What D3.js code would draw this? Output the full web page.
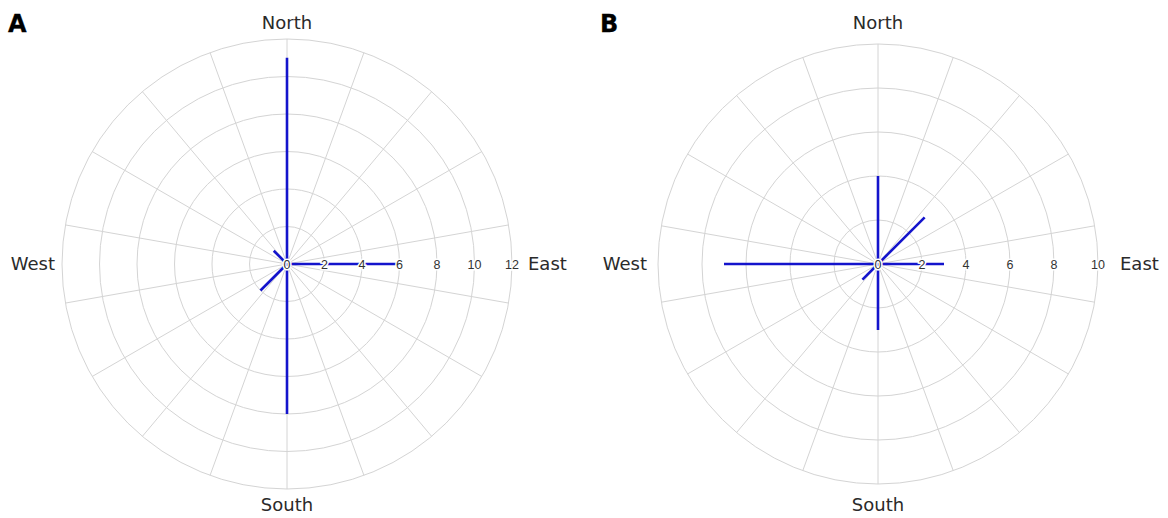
<!DOCTYPE html>
<html>
<head>
<meta charset="utf-8">
<script src="https://cdn.jsdelivr.net/npm/d3@7"></script>
<style>
  html, body { margin: 0; padding: 0; background: #fff; }
  svg { display: block; }
</style>
</head>
<body>
<svg id="chart" width="1168" height="518"></svg>
<script>
// ---- data ----
const directions = ["N", "NE", "E", "SE", "S", "SW", "W", "NW"];
const directionAngles = [0, 45, 90, 135, 180, 225, 270, 315];
const valuesA = [11, 0, 6, 0, 8, 2, 0, 1];
const valuesB = [4, 3, 3, 0, 3, 1, 7, 0];
const ticksA = [0, 2, 4, 6, 8, 10, 12];
const ticksB = [0, 2, 4, 6, 8, 10];
const compassLabels = ["North", "East", "South", "West"];
const panelLetters = ["A", "B"];

const svg = d3.select("#chart");

function drawPanel(opts) {
  const { cx, cy, R, maxR, ticks, values, letter, letterX, eastGap, westGap } = opts;
  const g = svg.append("g").attr("transform", `translate(${cx},${cy})`);
  const r = d3.scaleLinear().domain([0, maxR]).range([0, R]);
  const toRad = d => (d - 90) * Math.PI / 180;

  // spokes every 20 degrees
  const spokes = d3.range(0, 360, 20);
  g.selectAll("line.spoke").data(spokes).join("line")
    .attr("x1", 0).attr("y1", 0)
    .attr("x2", d => R * Math.cos(toRad(d)))
    .attr("y2", d => R * Math.sin(toRad(d)))
    .attr("stroke", "#d4d4d4").attr("stroke-width", 1);

  // circles
  g.selectAll("circle.grid").data(ticks.filter(t => t > 0)).join("circle")
    .attr("r", d => r(d))
    .attr("fill", "none").attr("stroke", "#d4d4d4").attr("stroke-width", 1);

  // data lines
  const data = directions.map((d, i) => ({ dir: d, angle: directionAngles[i], v: values[i] }))
    .filter(d => d.v > 0);
  g.selectAll("line.val").data(data).join("line")
    .attr("x1", 0).attr("y1", 0)
    .attr("x2", d => r(d.v) * Math.cos(toRad(d.angle)))
    .attr("y2", d => r(d.v) * Math.sin(toRad(d.angle)))
    .attr("stroke", "#1414cc").attr("stroke-width", 2.6).attr("stroke-linecap", "butt");

  // radial tick labels along east
  g.selectAll("text.tick").data(ticks).join("text")
    .attr("x", d => r(d)).attr("y", 0)
    .attr("dy", "0.36em")
    .attr("text-anchor", "middle")
    .attr("font-family", "Liberation Sans, Arial, sans-serif")
    .attr("font-size", 12.5)
    .attr("fill", "#333")
    .attr("stroke", "#fff").attr("stroke-width", 3).attr("paint-order", "stroke")
    .text(d => d);

  // compass labels
  const lab = g.append("g")
    .attr("font-family", "DejaVu Sans, Verdana, sans-serif")
    .attr("font-size", 18)
    .attr("fill", "#2a2a2a");
  lab.append("text").attr("x", 0).attr("y", 29 - cy).attr("text-anchor", "middle").text(compassLabels[0]);
  lab.append("text").attr("x", R + eastGap).attr("y", 0).attr("dy", "0.35em").attr("text-anchor", "start").text(compassLabels[1]);
  lab.append("text").attr("x", 0).attr("y", 511 - cy).attr("text-anchor", "middle").text(compassLabels[2]);
  lab.append("text").attr("x", -R - westGap).attr("y", 0).attr("dy", "0.35em").attr("text-anchor", "end").text(compassLabels[3]);

  // panel letter
  svg.append("text").attr("x", letterX).attr("y", 32)
    .attr("font-family", "DejaVu Sans, sans-serif")
    .attr("font-weight", 900).attr("font-size", 24)
    .attr("fill", "#000").attr("stroke", "#000").attr("stroke-width", 0.3)
    .text(letter);
}

drawPanel({ cx: 287, cy: 264, R: 225, maxR: 12, ticks: ticksA, values: valuesA, letter: panelLetters[0], letterX: 8, eastGap: 16, westGap: 7 });
drawPanel({ cx: 878, cy: 264, R: 220, maxR: 10, ticks: ticksB, values: valuesB, letter: panelLetters[1], letterX: 600, eastGap: 22, westGap: 11 });
</script>
</body>
</html>
